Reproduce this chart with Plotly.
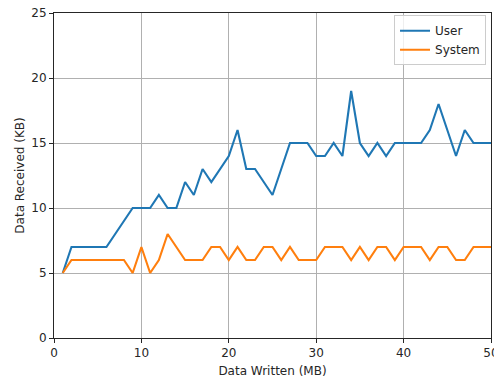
import plotly.graph_objects as go

x_mb = list(range(1, 51))
user_kb = [5, 7, 7, 7, 7, 7, 8, 9, 10, 10,
           10, 11, 10, 10, 12, 11, 13, 12, 13, 14,
           16, 13, 13, 12, 11, 13, 15, 15, 15, 14,
           14, 15, 14, 19, 15, 14, 15, 14, 15, 15,
           15, 15, 16, 18, 16, 14, 16, 15, 15, 15]
system_kb = [5, 6, 6, 6, 6, 6, 6, 6, 5, 7,
             5, 6, 8, 7, 6, 6, 6, 7, 7, 6,
             7, 6, 6, 7, 7, 6, 7, 6, 6, 6,
             7, 7, 7, 6, 7, 6, 7, 7, 6, 7,
             7, 7, 6, 7, 7, 6, 6, 7, 7, 7]
x_ticks = [0, 10, 20, 30, 40, 50]
y_ticks = [0, 5, 10, 15, 20, 25]

font = dict(family="DejaVu Sans", size=12, color="#262626")

fig = go.Figure()
fig.add_trace(go.Scatter(x=x_mb, y=user_kb, mode="lines", name="User",
                         line=dict(color="#1f77b4", width=2.1)))
fig.add_trace(go.Scatter(x=x_mb, y=system_kb, mode="lines", name="System",
                         line=dict(color="#ff7f0e", width=2.1)))

axis_common = dict(showline=True, linecolor="#262626", linewidth=1, mirror=True,
                   ticks="outside", ticklen=4, tickwidth=1, tickcolor="#262626",
                   showgrid=True, gridcolor="#b0b0b0", gridwidth=0.8,
                   zeroline=False, tickfont=font, automargin=False,
                   ticklabeloverflow="allow")

fig.update_layout(
    width=494, height=382,
    margin=dict(l=54, r=3, t=13, b=44),
    paper_bgcolor="white", plot_bgcolor="white",
    font=font,
    showlegend=True,
    legend=dict(x=0.9886, y=0.993, xanchor="right", yanchor="top",
                bgcolor="rgba(255,255,255,0.8)", bordercolor="#cccccc", borderwidth=1,
                font=font),
    xaxis=dict(range=[0, 50], tickvals=x_ticks,
               title=dict(text="Data Written (MB)", font=font, standoff=7), **axis_common),
    yaxis=dict(range=[0, 25], tickvals=y_ticks,
               title=dict(text="Data Received (KB)", font=font, standoff=4), **axis_common),
)

fig.write_html("out.html", config={"displayModeBar": False},
               post_script="document.body.style.margin='0';document.body.style.overflow='hidden';")
